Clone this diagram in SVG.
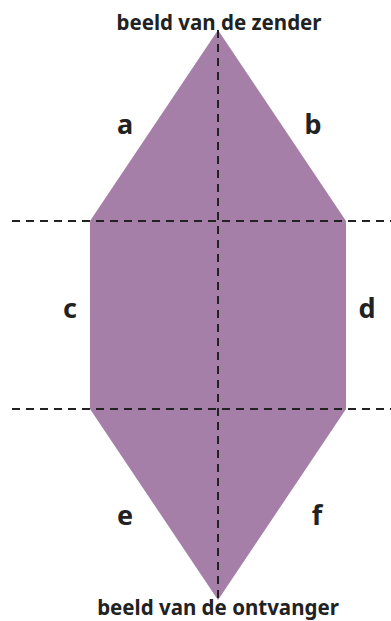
<svg xmlns="http://www.w3.org/2000/svg" width="391" height="621" viewBox="0 0 391 621">
<style>
.lbl{font-family:"Noto Sans","Liberation Sans",sans-serif;font-weight:bold;fill:#222;text-anchor:middle}
.t{font-size:20.5px}
.l{font-size:27px}
.dash{stroke:#222;stroke-width:2;stroke-dasharray:8,6;fill:none}
</style>
<g id="shape"><polygon points="218,30 346,221 346,409 218,600 90,409 90,221" fill="#A57FA8"/></g>
<g id="connectors">
<line class="dash" x1="12" y1="221" x2="391" y2="221"/>
<line class="dash" x1="12" y1="409" x2="391" y2="409"/>
<line class="dash" x1="218" y1="30" x2="218" y2="600"/>
</g>
<g id="top"><text class="lbl t" x="219" y="30">beeld van de zender</text></g>
<g id="bottom"><text class="lbl t" x="218" y="615">beeld van de ontvanger</text></g>
<g id="a"><text class="lbl l" x="125" y="134">a</text></g>
<g id="b"><text class="lbl l" x="313" y="134">b</text></g>
<g id="c"><text class="lbl l" x="70" y="318">c</text></g>
<g id="d"><text class="lbl l" x="367" y="318">d</text></g>
<g id="e"><text class="lbl l" x="125" y="525">e</text></g>
<g id="f"><text class="lbl l" x="317" y="525">f</text></g>
</svg>
